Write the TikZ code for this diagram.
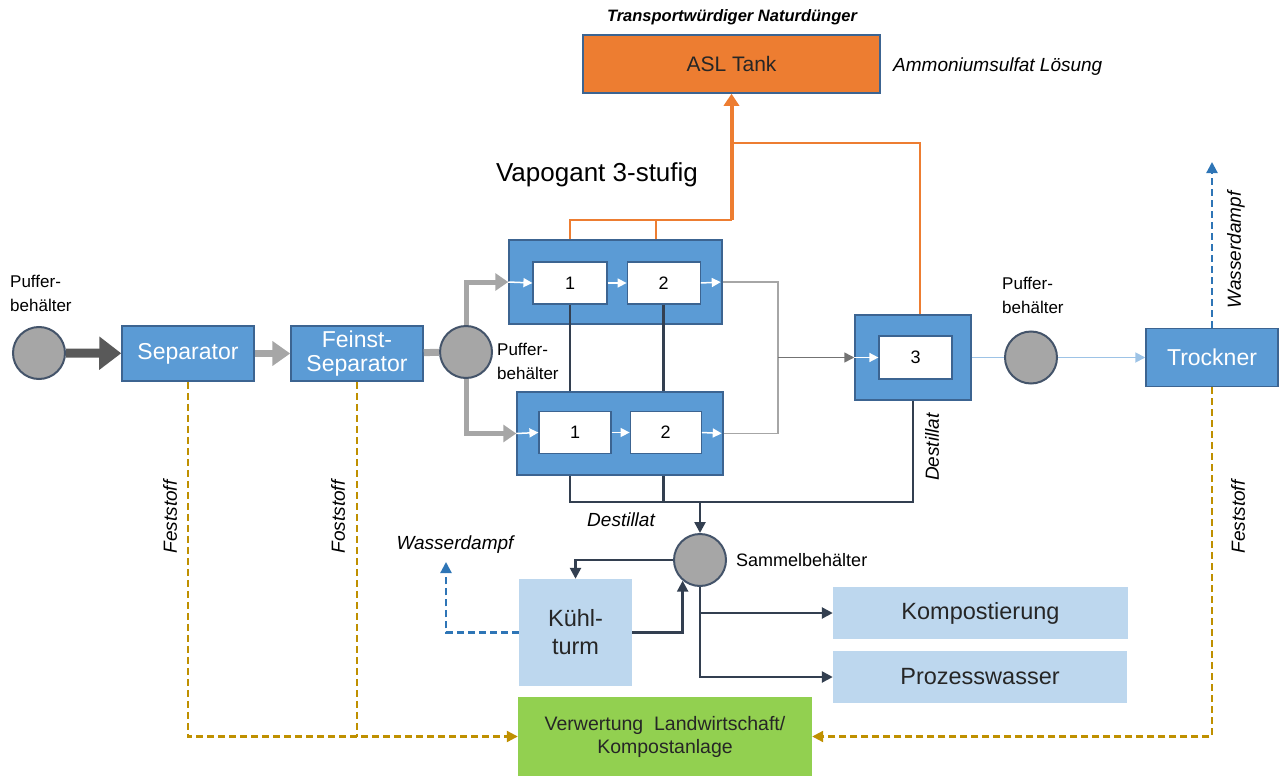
\documentclass[tikz,border=0pt]{standalone}
\usepackage{fontspec}
\setmainfont{Liberation Sans}
\usetikzlibrary{arrows.meta, positioning, calc}
\definecolor{VapBlue}{RGB}{91,155,213}
\definecolor{VapEdge}{RGB}{60,100,145}
\definecolor{VapPale}{RGB}{189,215,238}
\definecolor{VapGreen}{RGB}{146,208,80}
\definecolor{VapOrange}{RGB}{237,125,49}
\definecolor{VapGray}{RGB}{166,166,166}
\definecolor{VapDark}{RGB}{51,63,80}
\definecolor{VapGold}{RGB}{191,144,0}
\definecolor{VapSteam}{RGB}{46,117,182}
\definecolor{VapLine}{RGB}{157,195,230}
\definecolor{VapTankEdge}{RGB}{68,84,106}
\tikzset{
  unit/.style={rectangle, draw=VapEdge, fill=VapBlue, line width=1.5pt, text=white,
    align=center, inner sep=0pt, font=\fontsize{23}{24}\selectfont},
  frame/.style={rectangle, draw=VapEdge, fill=VapBlue, line width=1.5pt, inner sep=0pt},
  stage/.style={rectangle, draw=VapEdge, fill=white, line width=1.2pt, inner sep=0pt,
    minimum height=42pt, font=\fontsize{18}{20}\selectfont},
  pale/.style={rectangle, fill=VapPale, align=center, inner sep=0pt, text=black!85,
    font=\fontsize{23.5}{28}\selectfont},
  tank/.style={circle, draw=VapTankEdge, fill=VapGray, line width=2pt,
    minimum size=52pt, inner sep=0pt},
  note/.style={inner sep=0pt, align=left, anchor=north west, font=\fontsize{17}{24}\selectfont},
  lbl/.style={inner sep=0pt, font=\itshape\fontsize{19}{22}\selectfont},
  feed/.style={line width=9pt, draw=black!65, -{Triangle[length=22pt,width=32pt]}},
  slurry/.style={line width=7pt, draw=VapGray, -{Triangle[length=18pt,width=24pt]}},
  split/.style={line width=5pt, draw=VapGray, -{Triangle[length=13pt,width=17pt]}},
  inner/.style={line width=1.5pt, draw=white, -{Triangle[length=9pt,width=9pt]}},
  vapour/.style={line width=1.3pt, draw=VapGray},
  vapourarr/.style={line width=1.5pt, draw=black!55, -{Triangle[length=10pt,width=10pt]}},
  dest/.style={line width=2.5pt, draw=VapDark},
  destarr/.style={dest, -{Triangle[length=11pt,width=11pt]}},
  solids/.style={line width=2.2pt, draw=VapGold, dash pattern=on 7pt off 4pt,
    -{Triangle[length=11pt,width=11pt]}},
  steam/.style={line width=2.2pt, draw=VapSteam, dash pattern=on 7pt off 4pt,
    -{Triangle[length=11pt,width=11pt]}},
  asl/.style={line width=2.5pt, draw=VapOrange},
  aslarr/.style={line width=4pt, draw=VapOrange, -{Triangle[length=12pt,width=15pt]}},
  dry/.style={line width=1.8pt, draw=VapLine, -{Triangle[length=10pt,width=10pt]}}
}
\begin{document}
\begin{tikzpicture}[x=1pt, y=-1pt]
  \useasboundingbox (0,0) rectangle (1280,776);

  % separation line
  \node[tank] (puf1) at (39,353) {};
  \node[unit, minimum width=132pt, minimum height=55pt] (sep) at (188,353.5) {Separator};
  \node[unit, minimum width=132pt, minimum height=55pt] (fsep) at (357,353.5) {Feinst-\\Separator};
  \node[tank] (puf2) at (466,352) {};

  % Vapogant stages
  \node[frame, minimum width=213pt, minimum height=84pt] (vapA) at (615.5,282) {};
  \node[stage, minimum width=74pt] (a1) at (570,283) {1};
  \node[stage, minimum width=73pt, right=19pt of a1] (a2) {2};
  \node[frame, minimum width=206pt, minimum height=83pt] (vapB) at (620,433.5) {};
  \node[stage, minimum width=72pt] (b1) at (575,432.5) {1};
  \node[stage, minimum width=71pt, right=18pt of b1] (b2) {2};
  \node[frame, minimum width=116pt, minimum height=85pt] (vapC) at (913,357.5) {};
  \node[stage, minimum width=73pt, minimum height=43pt] (c3) at (915.5,357.5) {3};

  \node[tank] (puf3) at (1031,357.5) {};
  \node[unit, minimum width=132pt, minimum height=58pt] (trock) at (1212,357.5) {Trockner};

  \node[rectangle, draw=VapEdge, fill=VapOrange, line width=1.5pt, inner sep=0pt,
    minimum width=297pt, minimum height=58pt, text=black!85,
    font=\fontsize{21}{23}\selectfont] (asl) at (731.5,64) {ASL Tank};

  % collecting side
  \node[tank] (sammel) at (700,560) {};
  \node[pale, minimum width=113pt, minimum height=107pt] (kuehl) at (575.5,632.5) {Kühl-\\turm};
  \node[pale, minimum width=295pt, minimum height=52pt] (kompost) at (980.5,613) {Kompostierung};
  \node[pale, minimum width=294pt, minimum height=52pt] (prozess) at (980,677) {Prozesswasser};
  \node[rectangle, fill=VapGreen, align=center, inner sep=0pt, text=black!85,
    minimum width=294pt, minimum height=79pt,
    font=\fontsize{19.5}{23}\selectfont] (verw) at (665,736.5) {Verwertung\ \ Landwirtschaft/\\Kompostanlage};

  % texts
  \node[note] (pufLabA) at (10,275) {Puffer-\\behälter};
  \node[note] (pufLabB) at (497,343) {Puffer-\\behälter};
  \node[note] (pufLabC) at (1002,277) {Puffer-\\behälter};
  \node[inner sep=0pt, font=\fontsize{26}{30}\selectfont] (title) at (597,175) {Vapogant 3-stufig};
  \node[inner sep=0pt, font=\bfseries\itshape\fontsize{16.5}{18}\selectfont] (fert) at (732,17) {Transportwürdiger Naturdünger};
  \node[lbl, anchor=west] (aslLab) at (893,67) {Ammoniumsulfat Lösung};
  \node[inner sep=0pt, anchor=west, font=\fontsize{18}{20}\selectfont] (sammelLab) at (736,560) {Sammelbehälter};
  \node[lbl] (destLabA) at (621,520) {Destillat};
  \node[lbl, rotate=90] (destLabB) at (932,447) {Destillat};
  \node[lbl] (dampfLabA) at (455,545) {Wasserdampf};
  \node[lbl, rotate=90] (dampfLabB) at (1236,250) {Wasserdampf};
  \node[lbl, rotate=90] (festLabA) at (170,517) {Feststoff};
  \node[lbl, rotate=90] (festLabB) at (338,517) {Foststoff};
  \node[lbl, rotate=90] (festLabC) at (1238,517) {Feststoff};

  % main flow
  \draw[feed] (puf1) -- (sep);
  \draw[slurry] (sep) -- (fsep);
  \draw[slurry, -] (fsep) -- (puf2);
  \draw[split] (puf2.north) |- (vapA.west);
  \draw[split] (puf2.south) |- (vapB.west);

  \draw[inner] (vapA.west) -- (a1.west);
  \draw[inner] (a1) -- (a2);
  \draw[inner, shorten >=2pt] (a2.east) -- (vapA.east);
  \draw[inner] (vapB.west) -- (b1.west);
  \draw[inner] (b1) -- (b2);
  \draw[inner, shorten >=2pt] (b2.east) -- (vapB.east);
  \draw[inner] (vapC.west) -- (c3.west);

  \coordinate (vjoin) at (778,357.5);
  \draw[vapour] (vapA.east) -| (vjoin);
  \draw[vapour] (vapB.east) -| (vjoin);
  \draw[vapourarr] (vjoin) -- (vapC.west);

  \draw[dry, -] (vapC.east) -- (puf3);
  \draw[dry] (puf3) -- (trock);

  % ammonium sulfate
  \coordinate (aslknee) at (731.5,220);
  \coordinate (aslside) at (731.5,143);
  \draw[asl] (a1.north |- vapA.north) |- (aslknee);
  \draw[asl] ($(vapA.north)+(40.5,0)$) -- ++(0,-20);
  \draw[aslarr] (aslknee) -- (asl.south);
  \draw[asl, line width=1.6pt] ($(vapC.north)+(7,0)$) |- (aslside);

  % distillate
  \coordinate (collect) at (700,502);
  \draw[dest] (a1.south) -- (a1.south |- vapB.north);
  \draw[dest] (a2.south) -- (a2.south |- vapB.north);
  \draw[dest] (a1.south |- vapB.south) |- (collect);
  \draw[dest] (a2.south |- vapB.south) |- (collect);
  \draw[dest] (vapC.south) |- (collect);
  \draw[destarr] (collect) -- (sammel.north);

  \draw[destarr] (sammel.west) -| (kuehl.north);
  \draw[destarr] (kuehl.east) -| (sammel.230);
  \draw[destarr] (sammel.south) |- (kompost.west);
  \draw[destarr] (sammel.south) |- (prozess.west);

  % steam
  \coordinate (kdampf) at (446,562);
  \coordinate (tdampf) at (1211,162);
  \draw[steam] (kuehl.west) -| (kdampf);
  \draw[steam] (trock.north) -- (trock.north |- tdampf);

  % solids
  \draw[solids] (sep.south) |- (verw.west);
  \draw[solids, -] (fsep.south) -- (fsep.south |- verw.west);
  \draw[solids] (trock.south) |- (verw.east);
\end{tikzpicture}
\end{document}
